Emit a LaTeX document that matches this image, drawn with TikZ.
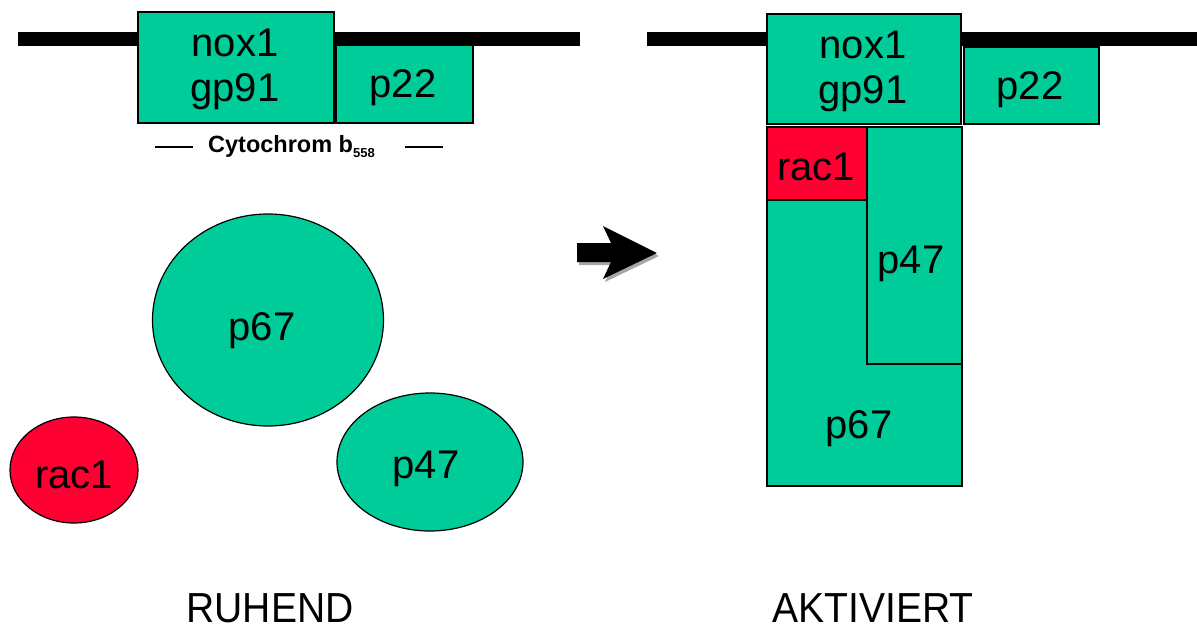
\documentclass[tikz,border=0pt]{standalone}
\usepackage{fontspec}
\setmainfont{Liberation Sans}
\usetikzlibrary{shapes.geometric}
\definecolor{grn}{RGB}{0,204,153}
\definecolor{rd}{RGB}{255,0,51}
\begin{document}
\begin{tikzpicture}[x=1pt,y=-1pt,
  gbox/.style={draw=black,line width=1.5pt,fill=grn,inner sep=0pt,anchor=north west},
  rbox/.style={draw=black,line width=1.5pt,fill=rd,inner sep=0pt,anchor=north west},
  gell/.style={ellipse,draw=black,line width=1.2pt,fill=grn,inner sep=0pt},
  rell/.style={ellipse,draw=black,line width=1.2pt,fill=rd,inner sep=0pt},
  lbl/.style={font=\fontsize{40}{44}\selectfont,inner sep=0pt,anchor=base,align=center},
  state/.style={font=\fontsize{42}{46}\selectfont,inner sep=0pt,anchor=base,xscale=0.93},
  membrane/.style={line width=14pt},
  dashline/.style={line width=1.4pt}]
\useasboundingbox (0,0) rectangle (1197,632);

% ---------- left: resting ----------
\draw[membrane] (18,39) -- (580,39);
\node[gbox,minimum width=196pt,minimum height=111pt] (noxL) at (137,11) {};
\node[gbox,minimum width=137pt,minimum height=78pt] (p22L) at (335,44) {};
\node[lbl] (noxLt) at (235,56) {nox1};
\node[lbl] (gpLt) at (235,101) {gp91};
\node[lbl] (p22Lt) at (403,97) {p22};

\draw[dashline] (155,147) -- (193,147);
\draw[dashline] (405,147) -- (443,147);
\node[font=\bfseries\fontsize{23.5}{26}\selectfont,anchor=base west,inner sep=0pt] (cyt) at (208,152)
  {Cytochrom b\raisebox{-5pt}{\fontsize{13}{13}\selectfont 558}};

\node[gell,minimum width=231pt,minimum height=212pt] (p67L) at (268,320) {};
\node[lbl] (p67Lt) at (262,340) {p67};
\node[rell,minimum width=128pt,minimum height=106pt] (rac1L) at (74,470) {};
\node[lbl] (rac1Lt) at (74,488) {rac1};
\node[gell,minimum width=186pt,minimum height=138pt] (p47L) at (430,462) {};
\node[lbl] (p47Lt) at (426,478) {p47};

\node[state] (ruhend) at (270,622) {RUHEND};

% ---------- arrow ----------
\fill[gray!70] (579,246) -- (613,246) -- (605,229) -- (659,256) -- (605,282) -- (613,265) -- (579,265) -- cycle;
\fill[black] (577,243) -- (611,243) -- (603,226) -- (657,253) -- (603,279) -- (611,262) -- (577,262) -- cycle;

% ---------- right: activated ----------
\draw[membrane] (647,39) -- (1197,39);
\node[gbox,minimum width=194pt,minimum height=110pt] (noxR) at (766,13) {};
\node[gbox,minimum width=135pt,minimum height=77pt] (p22R) at (963,46) {};
\node[gbox,minimum width=195pt,minimum height=286pt] (p67R) at (766,199) {};
\node[gbox,minimum width=95pt,minimum height=237pt] (p47R) at (866,126) {};
\node[rbox,minimum width=100pt,minimum height=73pt] (rac1R) at (766,126) {};
\node[lbl] (noxRt) at (863,58) {nox1};
\node[lbl] (gpRt) at (863,103) {gp91};
\node[lbl] (p22Rt) at (1030,99) {p22};
\node[lbl] (rac1Rt) at (816,180) {rac1};
\node[lbl] (p47Rt) at (911,273) {p47};
\node[lbl] (p67Rt) at (859,438) {p67};

\node[state] (aktiv) at (873,622) {AKTIVIERT};
\end{tikzpicture}
\end{document}
